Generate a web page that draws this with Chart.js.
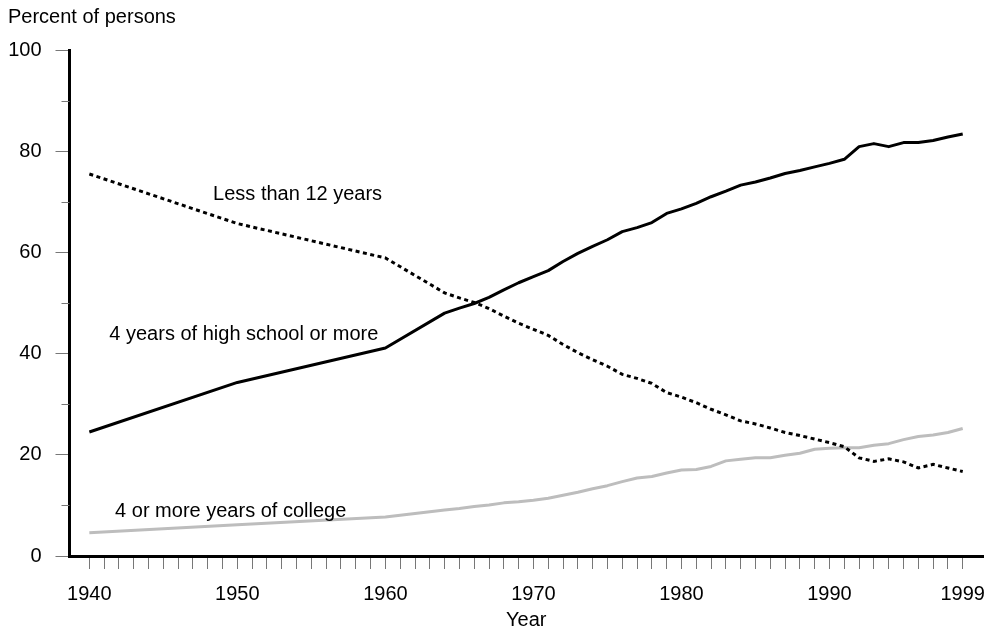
<!DOCTYPE html>
<html>
<head>
<meta charset="utf-8">
<script src="https://cdn.jsdelivr.net/npm/chart.js@4.4.0/dist/chart.umd.min.js"></script>
<style>
  html, body { margin: 0; padding: 0; background: #fff; }
  #c { display: block; }
</style>
</head>
<body>
<canvas id="c" width="987" height="632"></canvas>
<script>
// ---------------- DATA ----------------
const years = [1940, 1950, 1960, 1964, 1965, 1966, 1967, 1968, 1969, 1970,
  1971, 1972, 1973, 1974, 1975, 1976, 1977, 1978, 1979, 1980,
  1981, 1982, 1983, 1984, 1985, 1986, 1987, 1988, 1989, 1990,
  1991, 1992, 1993, 1994, 1995, 1996, 1997, 1998, 1999];

const highSchoolOrMore = [24.5, 34.3, 41.1, 48.0, 49.0, 49.9, 51.1, 52.6, 54.0, 55.2,
  56.4, 58.2, 59.8, 61.2, 62.5, 64.1, 64.9, 65.9, 67.7, 68.6,
  69.7, 71.0, 72.1, 73.3, 73.9, 74.7, 75.6, 76.2, 76.9, 77.6,
  78.4, 80.9, 81.5, 80.9, 81.7, 81.7, 82.1, 82.8, 83.4];

const lessThan12 = [75.5, 65.7, 58.9, 52.0, 51.0, 50.1, 48.9, 47.4, 46.0, 44.8,
  43.6, 41.8, 40.2, 38.8, 37.5, 35.9, 35.1, 34.1, 32.3, 31.4,
  30.3, 29.0, 27.9, 26.7, 26.1, 25.3, 24.4, 23.8, 23.1, 22.4,
  21.6, 19.4, 18.7, 19.2, 18.6, 17.4, 18.1, 17.4, 16.7];

const collegeOrMore = [4.6, 6.2, 7.7, 9.1, 9.4, 9.8, 10.1, 10.5, 10.7, 11.0,
  11.4, 12.0, 12.6, 13.3, 13.9, 14.7, 15.4, 15.7, 16.4, 17.0,
  17.1, 17.7, 18.8, 19.1, 19.4, 19.4, 19.9, 20.3, 21.1, 21.3,
  21.4, 21.4, 21.9, 22.2, 23.0, 23.6, 23.9, 24.4, 25.2];

const seriesNames = ['4 years of high school or more', 'Less than 12 years', '4 or more years of college'];
const labeledYears = [1940, 1950, 1960, 1970, 1980, 1990, 1999];
const yTickLabels = [0, 20, 40, 60, 80, 100];
const firstTickYear = 1940;
const lastTickYear = 1999;

// ---------------- STYLE / LAYOUT ----------------
const FONT = '"Liberation Sans", Arial, Helvetica, sans-serif';
const FSIZE = 20;
const TICK_GRAY = '#777777';

// in-chart labels, anchored in data coordinates
const annotations = [
  { text: seriesNames[1], x: 1948.36, y: 70.4 },
  { text: seriesNames[0], x: 1941.35, y: 42.7 },
  { text: seriesNames[2], x: 1941.74, y: 7.65 }
];

const toXY = (vals) => years.map((yr, i) => ({ x: yr, y: vals[i] }));

const extrasPlugin = {
  id: 'extras',
  afterDraw(chart) {
    const ctx = chart.ctx;
    const xs = chart.scales.x, ys = chart.scales.y;
    const left = chart.chartArea.left;
    ctx.save();
    ctx.strokeStyle = TICK_GRAY;
    ctx.lineWidth = 1;
    for (let v = 10; v < 100; v += 20) {
      const py = Math.round(ys.getPixelForValue(v)) + 0.5;
      ctx.beginPath();
      ctx.moveTo(left - 8, py);
      ctx.lineTo(left, py);
      ctx.stroke();
    }
    ctx.fillStyle = '#000';
    ctx.font = FSIZE + 'px ' + FONT;
    ctx.textAlign = 'left';
    ctx.textBaseline = 'alphabetic';
    annotations.forEach(a => {
      ctx.fillText(a.text, xs.getPixelForValue(a.x), ys.getPixelForValue(a.y));
    });
    ctx.restore();
  }
};

new Chart(document.getElementById('c'), {
  type: 'line',
  data: {
    datasets: [
      { label: seriesNames[0], data: toXY(highSchoolOrMore), borderColor: '#000', borderWidth: 3,
        pointRadius: 0, tension: 0, fill: false, borderJoinStyle: 'round' },
      { label: seriesNames[1], data: toXY(lessThan12), borderColor: '#000', borderWidth: 3,
        borderDash: [4, 3.5], pointRadius: 0, tension: 0, fill: false },
      { label: seriesNames[2], data: toXY(collegeOrMore), borderColor: '#bdbdbd', borderWidth: 3,
        pointRadius: 0, tension: 0, fill: false, borderJoinStyle: 'round' }
    ]
  },
  options: {
    responsive: false,
    animation: false,
    devicePixelRatio: 1,
    layout: { padding: { left: 8, right: 4, top: 0, bottom: 0 } },
    plugins: {
      legend: { display: false },
      tooltip: { enabled: false },
      title: {
        display: true, text: 'Percent of persons', align: 'start', color: '#000',
        font: { family: FONT, size: FSIZE, weight: 'normal' },
        padding: { top: 5, bottom: 21 }
      }
    },
    scales: {
      x: {
        type: 'linear',
        min: 1938.66,
        max: 2000.37,
        afterBuildTicks: (s) => {
          const t = [];
          for (let v = firstTickYear; v <= lastTickYear; v++) t.push({ value: v });
          s.ticks = t;
        },
        afterFit: (s) => { s.height = 76; s.paddingLeft = 0; s.paddingRight = 0; },
        ticks: {
          autoSkip: false, maxRotation: 0, minRotation: 0, padding: 13, color: '#000',
          font: { family: FONT, size: FSIZE },
          callback: (v) => labeledYears.includes(v) ? String(v) : ''
        },
        grid: { drawOnChartArea: false, drawTicks: true, tickLength: 13, tickColor: TICK_GRAY, tickWidth: 1 },
        border: { display: true, color: '#000', width: 3 },
        title: {
          display: true, text: 'Year', color: '#000',
          font: { family: FONT, size: FSIZE },
          padding: { top: 2, bottom: 0 }
        }
      },
      y: {
        min: 0, max: 100,
        afterFit: (s) => { s.width = 61.5; },
        ticks: {
          stepSize: 10, padding: 14, color: '#000',
          font: { family: FONT, size: FSIZE },
          callback: (v) => yTickLabels.includes(v) ? String(v) : ''
        },
        grid: {
          drawOnChartArea: false, drawTicks: true, tickLength: 14, tickWidth: 1,
          tickColor: (c) => (c.tick && yTickLabels.includes(c.tick.value)) ? TICK_GRAY : 'rgba(0,0,0,0)'
        },
        border: { display: true, color: '#000', width: 3 }
      }
    }
  },
  plugins: [extrasPlugin]
});
</script>
</body>
</html>
